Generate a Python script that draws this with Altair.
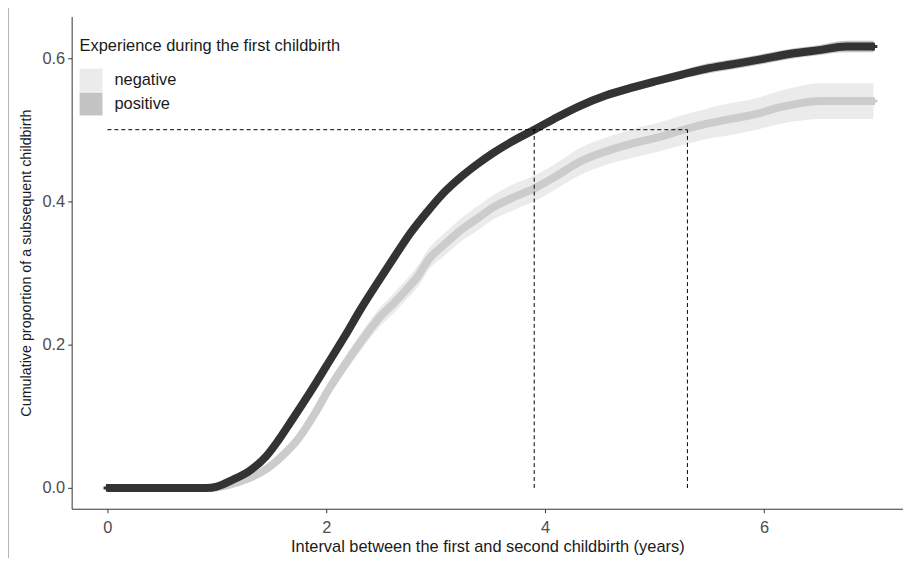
import altair as alt
import pandas as pd

# ---- data ----
pos_t = [0, 0.9, 1.0, 1.14, 1.3, 1.45, 1.56, 1.7, 1.87, 2.0, 2.17, 2.32, 2.47, 2.62, 2.77, 2.92,
         3.08, 3.23, 3.38, 3.53, 3.68, 3.9, 4.08, 4.3, 4.56, 4.8, 5.02, 5.25, 5.47, 5.7, 5.93, 6.1,
         6.29, 6.5, 6.75, 7.0]
pos_y = [0, 0, 0.002, 0.011, 0.024, 0.044, 0.066, 0.098, 0.138, 0.170, 0.212, 0.251, 0.287, 0.322,
         0.356, 0.385, 0.413, 0.434, 0.452, 0.468, 0.482, 0.500, 0.515, 0.532, 0.548, 0.559, 0.568,
         0.577, 0.585, 0.591, 0.597, 0.602, 0.607, 0.611, 0.616, 0.616]
pos_half = [0, 0, 0.001, 0.002, 0.003, 0.003, 0.004, 0.004, 0.005, 0.005, 0.005, 0.005, 0.006, 0.006,
            0.006, 0.006, 0.006, 0.006, 0.006, 0.006, 0.006, 0.006, 0.006, 0.006, 0.006, 0.006, 0.006,
            0.006, 0.007, 0.007, 0.007, 0.007, 0.007, 0.007, 0.008, 0.008]

neg_t = [0, 0.95, 1.1, 1.3, 1.45, 1.6, 1.75, 1.9, 2.02, 2.17, 2.32, 2.47, 2.63, 2.75, 2.84, 2.93,
         3.08, 3.23, 3.38, 3.54, 3.7, 3.9, 4.11, 4.3, 4.56, 4.8, 5.02, 5.29, 5.47, 5.63, 5.93, 6.14,
         6.3, 6.5, 7.0]
neg_y = [0, 0, 0.004, 0.014, 0.026, 0.045, 0.070, 0.105, 0.137, 0.172, 0.205, 0.235, 0.260, 0.280,
         0.296, 0.318, 0.340, 0.360, 0.376, 0.393, 0.405, 0.418, 0.436, 0.454, 0.470, 0.481, 0.489,
         0.501, 0.508, 0.513, 0.522, 0.531, 0.536, 0.540, 0.540]
neg_half = [0, 0, 0.002, 0.004, 0.005, 0.007, 0.008, 0.009, 0.010, 0.011, 0.012, 0.013, 0.014, 0.014,
            0.015, 0.015, 0.016, 0.016, 0.017, 0.017, 0.018, 0.018, 0.018, 0.019, 0.019, 0.020, 0.020,
            0.021, 0.021, 0.022, 0.022, 0.023, 0.024, 0.025, 0.025]

groups = ["negative", "positive"]
median_x = [3.9, 5.3]
median_y = 0.5

rows = []
for t, y, h in zip(neg_t, neg_y, neg_half):
    rows.append({"t": t, "y": y, "lo": y - h, "hi": y + h, "group": "negative"})
for t, y, h in zip(pos_t, pos_y, pos_half):
    rows.append({"t": t, "y": y, "lo": y - h, "hi": y + h, "group": "positive"})
df = pd.DataFrame(rows)

# censor marks at the ends of each curve
ends = pd.DataFrame({
    "t": [neg_t[-1], pos_t[-1], pos_t[0]],
    "y": [neg_y[-1], pos_y[-1], pos_y[0]],
    "group": ["negative", "positive", "positive"],
})

hline = pd.DataFrame({"x": [0], "x2": [max(median_x)], "y": [median_y]})
vlines = pd.DataFrame({"x": median_x, "y": [0, 0], "y2": [median_y, median_y]})

xscale = alt.Scale(domain=[-0.327, 7.27], nice=False, zero=False)
yscale = alt.Scale(domain=[-0.029, 0.658], nice=False, zero=False)
font = "Liberation Sans"

xax = alt.Axis(values=[0, 2, 4, 6], format="d", title="Interval between the first and second childbirth (years)",
               grid=False, domainColor="#333333", tickColor="#333333", tickSize=4,
               labelFontSize=16.5, labelColor="#4d4d4d", titleFontSize=16.5, titleFontWeight="normal",
               titleColor="#1a1a1a", labelFont=font, titleFont=font, labelPadding=7, titlePadding=3,
               titleLimit=800)
yax = alt.Axis(values=[0, 0.2, 0.4, 0.6], format=".1f", title="Cumulative proportion of a subsequent childbirth",
               grid=False, domainColor="#333333", tickColor="#333333", tickSize=4,
               labelFontSize=16.5, labelColor="#4d4d4d", titleFontSize=14.4, titleFontWeight="normal",
               titleColor="#1a1a1a", labelFont=font, titleFont=font, labelPadding=3, titlePadding=8,
               titleLimit=800)

cstroke = alt.Scale(domain=groups, range=["#cccccc", "#333333"])

band = alt.Chart(df).mark_area(opacity=1, interpolate="monotone").encode(
    x=alt.X("t:Q", scale=xscale, axis=xax),
    y=alt.Y("lo:Q", scale=yscale, axis=yax),
    y2="hi:Q",
    fill=alt.Fill("group:N", scale=alt.Scale(domain=groups, range=["#ebebeb", "#c4c4c4"]),
                  legend=alt.Legend(title="Experience during the first childbirth", orient="none",
                                    legendX=8, legendY=22, symbolType="square", symbolSize=529,
                                    symbolStrokeWidth=0, titleFontSize=16.5, titleFontWeight="normal",
                                    titleColor="#1a1a1a", labelFontSize=16.5, labelColor="#1a1a1a",
                                    titleFont=font, labelFont=font, rowPadding=1, titlePadding=14,
                                    labelOffset=12, titleLimit=600)),
    detail="group:N",
)

line = alt.Chart(df).mark_line(strokeWidth=8, strokeCap="butt", interpolate="monotone").encode(
    x=alt.X("t:Q", scale=xscale),
    y=alt.Y("y:Q", scale=yscale),
    stroke=alt.Stroke("group:N", scale=cstroke, legend=None),
)

marks = alt.Chart(ends).mark_point(shape="cross", filled=True, size=60, strokeWidth=0, opacity=1).encode(
    x=alt.X("t:Q", scale=xscale),
    y=alt.Y("y:Q", scale=yscale),
    color=alt.Color("group:N", scale=cstroke, legend=None),
)

h = alt.Chart(hline).mark_rule(strokeDash=[4, 3], color="black", strokeWidth=1).encode(
    x=alt.X("x:Q", scale=xscale), x2="x2:Q", y=alt.Y("y:Q", scale=yscale))
v = alt.Chart(vlines).mark_rule(strokeDash=[4, 3], color="black", strokeWidth=1).encode(
    x=alt.X("x:Q", scale=xscale), y=alt.Y("y:Q", scale=yscale), y2="y2:Q")

frame = alt.Chart(pd.DataFrame({"a": [0]})).mark_rule(color="#b4b4b4", strokeWidth=1).encode(
    x=alt.value(-63.5), y=alt.value(-15), y2=alt.value(545))

chart = alt.layer(frame, band, line, marks, h, v).properties(
    width=836, height=495,
    autosize=alt.AutoSizeParams(type="none"),
    padding={"left": 64, "top": 7, "right": 0, "bottom": 48},
).configure_view(stroke=None).configure_axisX(domainWidth=1).configure_axisY(domainWidth=1)

chart.save("out.html", embed_options={"renderer": "svg", "actions": False})
